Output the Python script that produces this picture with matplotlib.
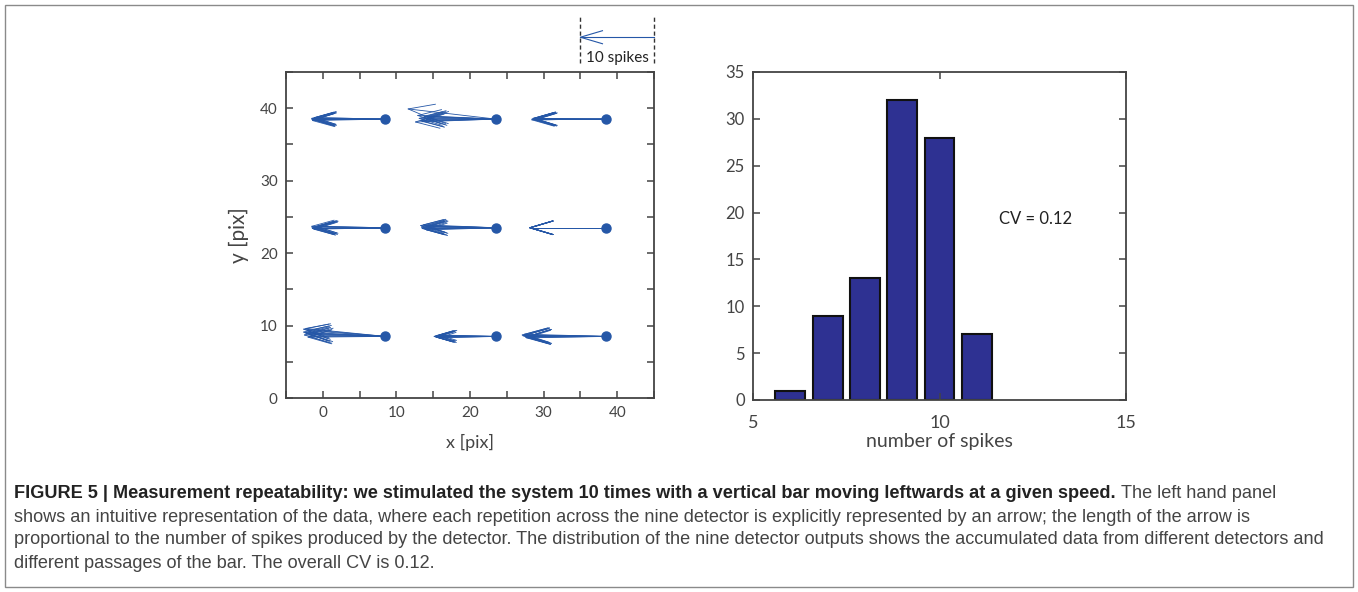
import matplotlib
matplotlib.use('Agg')
import matplotlib.pyplot as plt
import numpy as np
from matplotlib.ticker import MultipleLocator, FuncFormatter
from matplotlib.patches import Rectangle

# detector positions on the 3 x 3 grid
det_x = [8.5, 23.5, 38.5, 8.5, 23.5, 38.5, 8.5, 23.5, 38.5]
det_y = [38.5, 38.5, 38.5, 23.5, 23.5, 23.5, 8.5, 8.5, 8.5]

# arrow components for the 10 repetitions of each detector
arrow_u = [
    [-10.0, -9.6, -9.8, -10.0, -9.5, -9.9, -9.7, -10.0, -9.6, -9.8],
    [-11.9, -10.6, -10.2, -9.8, -10.9, -9.5, -9.2, -10.0, -10.4, -9.7],
    [-10.1, -9.8, -9.6, -9.9, -10.0, -9.7, -9.5, -9.9, -10.1, -9.8],
    [-10.0, -9.4, -9.7, -9.2, -9.9, -9.5, -10.0, -9.3, -9.6, -9.8],
    [-10.2, -9.6, -9.8, -9.3, -10.0, -9.5, -9.9, -9.4, -10.1, -9.7],
    [-10.4, -10.3, -10.4, -10.3, -10.4, -10.4, -10.3, -10.4, -10.3, -10.4],
    [-11.1, -10.9, -10.6, -11.0, -10.4, -10.8, -10.2, -11.1, -10.5, -10.7],
    [-8.4, -7.9, -8.1, -7.6, -8.3, -8.0, -7.8, -8.2, -7.7, -8.1],
    [-11.4, -10.9, -11.1, -10.6, -11.3, -10.8, -11.0, -10.7, -11.2, -10.9],
]
arrow_v = [
    [0.0, 0.2, -0.1, 0.1, 0.0, -0.2, 0.1, 0.0, 0.2, -0.1],
    [1.4, 0.5, -0.2, 0.2, -0.4, 0.0, 0.3, -0.3, 0.1, 0.4],
    [0.0, 0.1, -0.1, 0.1, 0.0, -0.1, 0.0, 0.1, -0.1, 0.0],
    [0.0, 0.2, -0.2, 0.1, -0.1, 0.0, 0.2, -0.1, 0.1, 0.0],
    [0.3, -0.2, 0.4, 0.1, -0.1, 0.2, 0.0, -0.3, 0.1, 0.3],
    [0.0, 0.0, 0.0, 0.0, 0.0, 0.0, 0.0, 0.0, 0.0, 0.0],
    [1.0, 0.5, 0.8, 0.2, 0.0, 1.1, 0.3, 0.6, -0.1, 0.4],
    [0.0, 0.1, -0.1, 0.2, 0.0, -0.1, 0.1, 0.0, -0.2, 0.1],
    [0.2, -0.1, 0.3, 0.0, 0.1, -0.2, 0.2, 0.0, 0.1, -0.1],
]

# scale arrow shown above the left panel
ref_spikes = 10
ref_x = 45
ref_y = 49.8

# histogram of spike counts
spike_bins = [6, 7, 8, 9, 10, 11]
spike_counts = [1, 9, 13, 32, 28, 7]
cv_value = 0.12

caption_bold = ('FIGURE 5 | Measurement repeatability: we stimulated the system 10 times '
                'with a vertical bar moving leftwards at a given speed.')
caption_lines = [
    'The left hand panel',
    'shows an intuitive representation of the data, where each repetition across the nine '
    'detector is explicitly represented by an arrow; the length of the arrow is',
    'proportional to the number of spikes produced by the detector. The distribution of the '
    'nine detector outputs shows the accumulated data from different detectors and',
    'different passages of the bar. The overall CV is 0.12.',
]

blue = '#2557a7'
axis_col = '#444444'
plt.rcParams['font.family'] = ['Lato', 'DejaVu Sans']


def quiver_lines(ax, x, y, u, v, alpha=0.3, beta=0.3, **kw):
    # matlab style arrow: shaft plus open head
    tx, ty = x + u, y + v
    ax.plot([x, tx], [y, ty], **kw)
    ax.plot([tx - alpha * (u + beta * v), tx, tx - alpha * (u - beta * v)],
            [ty - alpha * (v - beta * u), ty, ty - alpha * (v + beta * u)], **kw)


def style_axes(ax, size):
    for s in ax.spines.values():
        s.set_color(axis_col)
        s.set_linewidth(1.3)
    ax.tick_params(direction='in', length=5, width=1.1, color=axis_col,
                   labelcolor=axis_col, labelsize=size, top=True, right=True, pad=6)


W, H = 1358, 592
fig = plt.figure(figsize=(W / 100, H / 100), dpi=100)

# left panel: arrows
ax1 = fig.add_axes([286 / W, 1 - 398 / H, 368 / W, 326 / H])
for i in range(len(det_x)):
    for u, v in zip(arrow_u[i], arrow_v[i]):
        quiver_lines(ax1, det_x[i], det_y[i], u, v, color=blue, lw=0.6)
ax1.plot(det_x, det_y, 'o', color=blue, ms=6.5, zorder=5)

quiver_lines(ax1, ref_x, ref_y, -ref_spikes, 0, color=blue, lw=0.8, clip_on=False)
for xx in [ref_x - ref_spikes, ref_x]:
    ax1.plot([xx, xx], [46.2, 52.7], color='#333333', lw=1.0, ls=(0, (3, 2)), clip_on=False)
ax1.text(ref_x - ref_spikes / 2, 47.0, '%d spikes' % ref_spikes, ha='center', va='center',
         fontsize=11, color='#222222')

ax1.set_xlim(-5, 45)
ax1.set_ylim(0, 45)
ax1.xaxis.set_major_locator(MultipleLocator(5))
ax1.yaxis.set_major_locator(MultipleLocator(5))
fmt = FuncFormatter(lambda val, pos: '%d' % val if abs(val % 10) < 1e-6 else '')
ax1.xaxis.set_major_formatter(fmt)
ax1.yaxis.set_major_formatter(fmt)
style_axes(ax1, 11)
ax1.set_xlabel('x [pix]', fontsize=13, color=axis_col, labelpad=10)
ax1.set_ylabel('y [pix]', fontsize=15, color=axis_col, labelpad=8)

# right panel: histogram
ax2 = fig.add_axes([753 / W, 1 - 400 / H, 373 / W, 328 / H])
ax2.bar(spike_bins, spike_counts, width=0.8, color='#2e3192', edgecolor='#111111', linewidth=1.5)
ax2.set_xlim(5, 15)
ax2.set_ylim(0, 35)
ax2.set_xticks([5, 10, 15])
ax2.set_yticks(np.arange(0, 36, 5))
style_axes(ax2, 12)
ax2.tick_params(axis='x', labelsize=13, pad=11)
ax2.set_xlabel('number of spikes', fontsize=14, color=axis_col, labelpad=1)
ax2.text(11.6, 19.3, 'CV = %.2f' % cv_value, ha='left', va='center', fontsize=12, color='#222222')

# page frame and caption
fig.patches.append(Rectangle((5 / W, 5 / H), 1348 / W, 582 / H, transform=fig.transFigure,
                             fill=False, edgecolor='#8a8a8a', lw=1.0))
cap_font = ['Liberation Sans', 'DejaVu Sans']
cap_size = 13.1
t0 = fig.text(14 / W, 1 - 494 / H, caption_bold, fontsize=cap_size, fontweight='bold',
              family=cap_font, color='#222222', va='center')
r = fig.canvas.get_renderer()
bb = t0.get_window_extent(r)
fig.text((bb.x1 + 5) / W, 1 - 494 / H, caption_lines[0], fontsize=cap_size, family=cap_font,
         color='#444444', va='center')
for k, line in enumerate(caption_lines[1:]):
    fig.text(14 / W, 1 - (517 + 23 * k) / H, line, fontsize=cap_size, family=cap_font,
             color='#444444', va='center')

fig.savefig('out.png', dpi=100)
